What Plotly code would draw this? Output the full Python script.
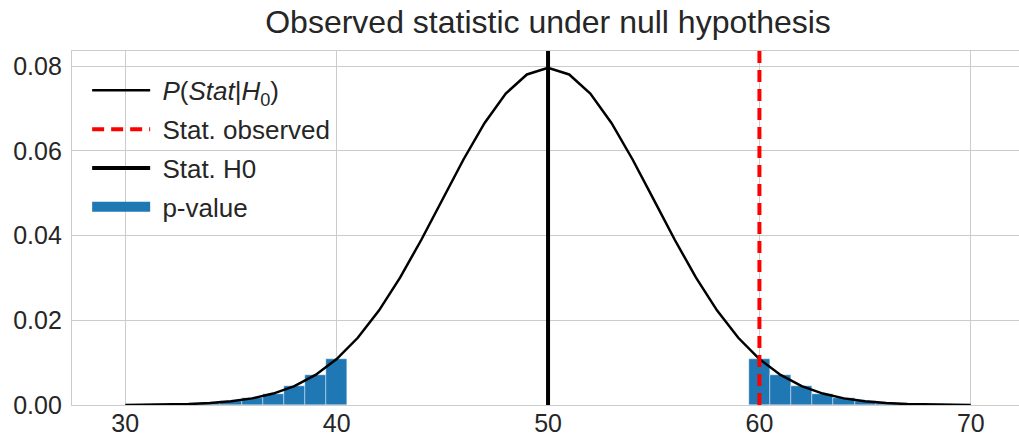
import plotly.graph_objects as go

# Binomial-like null distribution P(Stat|H0)
stat_values = [30, 31, 32, 33, 34, 35, 36, 37, 38, 39, 40,
               41, 42, 43, 44, 45, 46, 47, 48, 49, 50,
               51, 52, 53, 54, 55, 56, 57, 58, 59, 60,
               61, 62, 63, 64, 65, 66, 67, 68, 69, 70]
prob_values = [0.0000232, 0.0000523, 0.000113, 0.000232, 0.000458, 0.000864,
               0.00156, 0.00270, 0.00447, 0.00711, 0.01084,
               0.01587, 0.02229, 0.03007, 0.03895, 0.04847, 0.05796,
               0.06659, 0.07353, 0.07803, 0.07959,
               0.07803, 0.07353, 0.06659, 0.05796, 0.04847, 0.03895,
               0.03007, 0.02229, 0.01587, 0.01084,
               0.00711, 0.00447, 0.00270, 0.00156, 0.000864, 0.000458,
               0.000232, 0.000113, 0.0000523, 0.0000232]
stat_h0 = 50
stat_observed = 60
pvalue_low = 40
pvalue_high = 60

x_ticks = [30, 40, 50, 60, 70]
y_ticks = [0.00, 0.02, 0.04, 0.06, 0.08]

bar_x = [s for s in stat_values if s <= pvalue_low or s >= pvalue_high]
bar_y = [p for s, p in zip(stat_values, prob_values) if s <= pvalue_low or s >= pvalue_high]

y_top = max(prob_values) * 1.05
font_family = "Liberation Sans, Arial, sans-serif"
text_color = "#262626"
bar_color = "#1f77b4"
pad = "&nbsp;"

fig = go.Figure()
fig.add_trace(go.Bar(x=bar_x, y=bar_y, width=1.0, name="p-value", showlegend=False,
                     marker=dict(color=bar_color, line=dict(color="white", width=0.4))))
fig.add_trace(go.Scatter(x=stat_values, y=prob_values, mode="lines",
                         name=pad + "<i>P</i>(<i>Stat</i>|<i>H</i><sub>0</sub>)",
                         line=dict(color="black", width=2.5),
                         legendrank=1, legendgroup="a"))
fig.add_trace(go.Scatter(x=[stat_observed, stat_observed], y=[0, y_top * 2], mode="lines",
                         name=pad + "Stat. observed",
                         line=dict(color="red", width=4, dash="12px,7px"),
                         legendrank=2, legendgroup="b"))
fig.add_trace(go.Scatter(x=[stat_h0, stat_h0], y=[0, y_top * 2], mode="lines",
                         name=pad + "Stat. H0",
                         line=dict(color="black", width=4),
                         legendrank=3, legendgroup="c"))
# legend swatch for the p-value bars
fig.add_trace(go.Scatter(x=[None], y=[None], mode="lines", name=pad + "p-value",
                         line=dict(color=bar_color, width=17),
                         legendrank=4, legendgroup="d"))

fig.update_layout(
    width=1019, height=436,
    margin=dict(l=72, r=0, t=51, b=31),
    paper_bgcolor="white", plot_bgcolor="white",
    font=dict(family=font_family, size=25, color=text_color),
    title=dict(text="Observed statistic under null hypothesis",
               x=0.5378, xanchor="center", y=0.95, yanchor="middle",
               font=dict(size=32, color=text_color)),
    bargap=0,
    showlegend=True,
    legend=dict(x=0.016, y=0.955, xanchor="left", yanchor="top",
                bgcolor="rgba(0,0,0,0)", font=dict(size=26, color=text_color),
                tracegroupgap=2, itemwidth=58),
)
fig.update_xaxes(range=[27.48, 72.28], tickvals=x_ticks, ticktext=[str(v) for v in x_ticks],
                 showgrid=True, gridcolor="#cccccc", gridwidth=1.2,
                 showline=True, linecolor="#cccccc", linewidth=1.2, mirror=True,
                 zeroline=False, ticks="", automargin=False, ticklabelstandoff=-4,
                 tickfont=dict(size=25, color=text_color))
fig.update_yaxes(range=[0, y_top], tickvals=y_ticks, ticktext=[f"{v:.2f}" for v in y_ticks],
                 showgrid=True, gridcolor="#cccccc", gridwidth=1.2,
                 showline=True, linecolor="#cccccc", linewidth=1.2, mirror=False,
                 zeroline=False, ticks="", automargin=False, ticklabelstandoff=4,
                 tickfont=dict(size=25, color=text_color))

fig.write_html("out.html", config={"displayModeBar": False},
               post_script="document.body.style.margin='0px';")
